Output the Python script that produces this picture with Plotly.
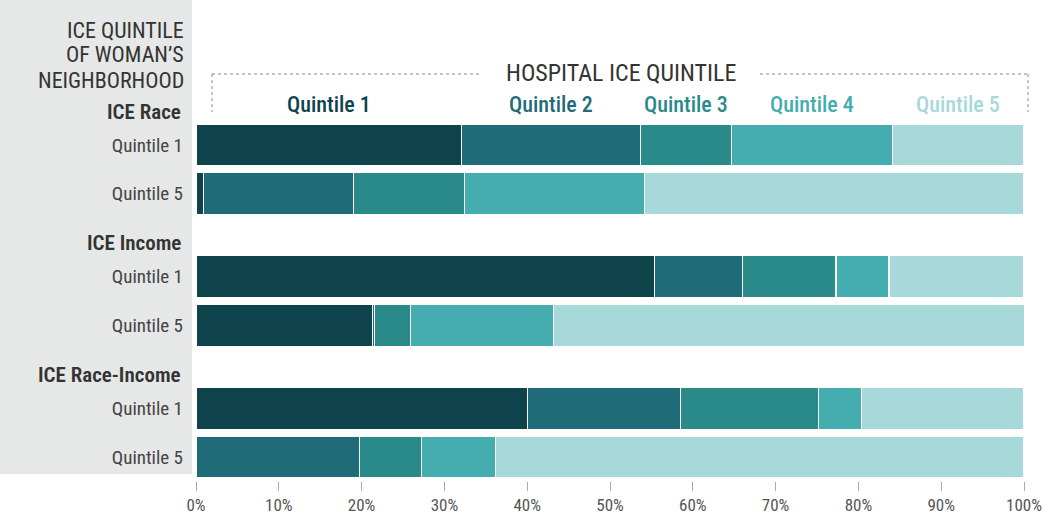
import plotly.graph_objects as go

# ---------------- data ----------------
groups = ["ICE Race", "ICE Income", "ICE Race-Income"]
row_labels = ["Quintile 1", "Quintile 5"]
series = ["Quintile 1", "Quintile 2", "Quintile 3", "Quintile 4", "Quintile 5"]

# percent of women, by hospital ICE quintile (rows: group x neighborhood quintile)
hosp_q1 = [32.1, 0.9, 55.4, 21.3, 40.0, 0.0]
hosp_q2 = [21.6, 18.1, 10.6, 0.3, 18.5, 19.7]
hosp_q3 = [11.0, 13.4, 11.3, 4.3, 16.7, 7.5]
hosp_q4 = [19.4, 21.8, 6.4, 17.3, 5.2, 9.0]
hosp_q5 = [15.9, 45.8, 16.3, 56.9, 19.6, 63.8]
values = [hosp_q1, hosp_q2, hosp_q3, hosp_q4, hosp_q5]

colors = ["#0e434b", "#1f6b78", "#2a8a89", "#45adb0", "#a7d8da"]
x_ticks = [0, 10, 20, 30, 40, 50, 60, 70, 80, 90, 100]
x_ticktext = [f"{t}%" for t in x_ticks]

# ---------------- layout helpers ----------------
W, H = 1050, 514
ML, MR, MT, MB = 196, 26, 118, 33
PW, PH = W - ML - MR, H - MT - MB

def px(x):
    return (x - ML) / PW

def py(y):
    return (H - MB - y) / PH

ROW_PITCH = 1.0
GROUP_PITCH = 2.694
BAR_W = 0.857

ypos = []
for g in range(len(groups)):
    for r in range(len(row_labels)):
        ypos.append(g * GROUP_PITCH + r * ROW_PITCH)

FONT = "Liberation Sans Narrow, Roboto Condensed, DejaVu Sans Condensed, Roboto, sans-serif"

fig = go.Figure()
for name, vals, col in zip(series, values, colors):
    fig.add_trace(go.Bar(
        y=ypos, x=vals, orientation="h", name=name,
        marker=dict(color=col, line=dict(color="white", width=1.2)),
        width=BAR_W, showlegend=False,
        hovertemplate=name + ": %{x:.1f}%<extra></extra>",
    ))

y_top = -(27 / 49)
y_bot = ypos[-1] + (H - MB - 457) / 49

fig.update_layout(
    width=W, height=H, barmode="stack",
    margin=dict(l=ML, r=MR, t=MT, b=MB, autoexpand=False),
    paper_bgcolor="white", plot_bgcolor="white",
    font=dict(family=FONT, color="#333"),
    xaxis=dict(range=[0, 100], tickvals=x_ticks, ticktext=x_ticktext,
               showgrid=False, zeroline=False, showline=False, automargin=False,
               ticks="outside", ticklen=9, tickcolor="#aaaaaa", tickwidth=1,
               tickfont=dict(size=17, color="#555", family=FONT)),
    yaxis=dict(range=[y_bot, y_top], tickvals=ypos,
               ticktext=row_labels * len(groups), automargin=False,
               showgrid=False, zeroline=False, showline=False,
               ticklabelstandoff=12,
               tickfont=dict(size=19, color="#444", family=FONT)),
)

shapes = []
# grey side panel
shapes.append(dict(type="rect", xref="paper", yref="paper",
                   x0=px(0), x1=px(192), y0=py(474), y1=py(0),
                   fillcolor="#e6e7e7", line=dict(width=0), layer="below"))
# dashed bracket for hospital quintile header
dash = dict(color="#888", width=1, dash="3px,3px")
shapes += [
    dict(type="line", xref="paper", yref="paper", x0=px(212), x1=px(480), y0=py(74), y1=py(74), line=dash),
    dict(type="line", xref="paper", yref="paper", x0=px(760), x1=px(1028), y0=py(74), y1=py(74), line=dash),
    dict(type="line", xref="paper", yref="paper", x0=px(212), x1=px(212), y0=py(74), y1=py(112), line=dash),
    dict(type="line", xref="paper", yref="paper", x0=px(1028), x1=px(1028), y0=py(74), y1=py(112), line=dash),
]
fig.update_layout(shapes=shapes)

ann = []
# panel title
for i, line in enumerate(["ICE QUINTILE", "OF WOMAN\u2019S", "NEIGHBORHOOD"]):
    ann.append(dict(text=line, xref="paper", yref="paper", x=px(186), y=py(30 + 25 * i),
                    xanchor="right", yanchor="middle", showarrow=False,
                    font=dict(size=22, color="#333", family=FONT)))
# group headers (placed one header-gap above each group's first row)
unit_px = PH / (y_bot - y_top)
for g, name in enumerate(groups):
    ycent = H - MB - (y_bot - (ypos[2 * g] - 0.68)) * unit_px
    ann.append(dict(text=name, xref="paper", yref="paper", x=px(183),
                    y=py(ycent), xanchor="right", yanchor="middle",
                    showarrow=False, font=dict(size=21, color="#333", family=FONT, weight=600)))
# hospital header
ann.append(dict(text="HOSPITAL ICE QUINTILE", xref="paper", yref="paper", x=px(621), y=py(73),
                xanchor="center", yanchor="middle", showarrow=False,
                font=dict(size=24, color="#333", family=FONT)))
# series labels centred on the first row's segments
cum = 0.0
for name, vals, col in zip(series, values, colors):
    mid = cum + vals[0] / 2
    cum += vals[0]
    ann.append(dict(text=name, xref="x", yref="paper", x=mid, y=py(104),
                    xanchor="center", yanchor="middle", showarrow=False,
                    font=dict(size=22, color=col, family=FONT, weight=500)))
fig.update_layout(annotations=ann)

fig.write_html("out.html", config={"displayModeBar": False},
               post_script="document.body.style.margin='0';")
